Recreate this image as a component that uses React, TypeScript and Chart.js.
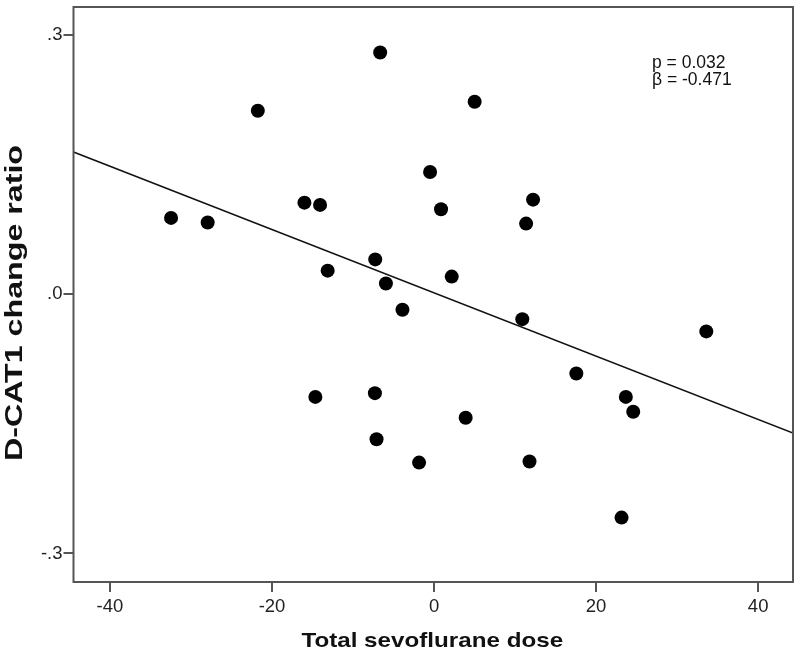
import React, { useEffect, useRef } from "react";
import { Chart, registerables } from "chart.js";

Chart.register(...registerables);

// Total sevoflurane dose (x) and D-CAT1 change ratio (y)
const doseValues = [
  -32.46, -27.94, -21.75, -16.0, -14.07, -13.13, -14.65, -7.26, -6.65, -5.94,
  -7.3, -7.1, -3.9, -1.85, -0.49, 0.86, 2.18, 3.9, 5.01, 10.89,
  11.36, 11.78, 12.22, 17.56, 23.67, 24.58, 23.14, 33.6,
];
const ratioValues = [
  0.0881, 0.0827, 0.212, 0.1057, 0.1031, 0.0271, -0.1189, 0.0401, 0.2793, 0.0123,
  -0.1146, -0.1679, -0.0182, -0.1949, 0.1411, 0.0981, 0.0202, -0.143, 0.2225, -0.029,
  0.0815, -0.1937, 0.1092, -0.0919, -0.1189, -0.1361, -0.2585, -0.0432,
];

const xMin = -44.5;
const xMax = 44.3;
const yMin = -0.333;
const yMax = 0.332;

const xTickValues = [-40, -20, 0, 20, 40];
const yTickValues = [0.3, 0, -0.3];
const yTickLabels = [".3", ".0", "-.3"];

const fitSlope = -0.00366;
const fitIntercept = 0.0014;
const fitX = [xMin, xMax];

const xTitle = "Total sevoflurane dose";
const yTitle = "D-CAT1 change ratio";
const statLines = ["p = 0.032", "β = -0.471"];

const FONT = "'Liberation Sans', Arial, sans-serif";
const AXIS_COLOR = "#555555";

export default function App() {
  const canvasRef = useRef<HTMLCanvasElement | null>(null);

  useEffect(() => {
    const canvas = canvasRef.current;
    if (!canvas) return;

    const points = doseValues.map((x, i) => ({ x, y: ratioValues[i] }));
    const fitLine = fitX.map((x) => ({ x, y: fitIntercept + fitSlope * x }));

    const boxAndTextPlugin = {
      id: "boxAndText",
      afterDraw(chart: any) {
        const ctx = chart.ctx as CanvasRenderingContext2D;
        const a = chart.chartArea;
        ctx.save();
        ctx.strokeStyle = AXIS_COLOR;
        ctx.lineWidth = 2;
        ctx.strokeRect(a.left, a.top, a.right - a.left, a.bottom - a.top);

        ctx.fillStyle = "#111111";
        ctx.save();
        ctx.font = `bold 20.5px ${FONT}`;
        ctx.textAlign = "center";
        ctx.textBaseline = "alphabetic";
        ctx.translate((a.left + a.right) / 2 - 1, 647);
        ctx.scale(1.18, 1);
        ctx.fillText(xTitle, 0, 0);
        ctx.restore();

        ctx.save();
        ctx.font = `bold 23px ${FONT}`;
        ctx.textAlign = "center";
        ctx.textBaseline = "alphabetic";
        ctx.translate(21.5, 303);
        ctx.rotate(-Math.PI / 2);
        ctx.scale(1.4, 1);
        ctx.fillText(yTitle, 0, 0);
        ctx.restore();

        ctx.font = `17.5px ${FONT}`;
        ctx.textAlign = "left";
        ctx.textBaseline = "alphabetic";
        statLines.forEach((t, i) => {
          ctx.fillText(t, 652, 68 + i * 17);
        });
        ctx.restore();
      },
    };

    const chart = new Chart(canvas, {
      type: "scatter",
      data: {
        datasets: [
          {
            type: "line",
            data: fitLine,
            borderColor: "#111111",
            borderWidth: 1.6,
            pointRadius: 0,
            fill: false,
            order: 2,
          } as any,
          {
            type: "scatter",
            data: points,
            backgroundColor: "#000000",
            borderColor: "#000000",
            borderWidth: 0,
            pointRadius: 7,
            order: 1,
          },
        ],
      },
      options: {
        responsive: false,
        animation: false,
        devicePixelRatio: 1,
        layout: { padding: { top: -2, right: 5, left: 0, bottom: 0 } },
        plugins: {
          legend: { display: false },
          tooltip: { enabled: false },
        },
        scales: {
          x: {
            type: "linear",
            min: xMin,
            max: xMax,
            afterBuildTicks: (scale: any) => {
              scale.ticks = xTickValues.map((v) => ({ value: v }));
            },
            afterFit: (scale: any) => {
              scale.height = 71;
              scale.paddingLeft = 0;
              scale.paddingRight = 0;
            },
            ticks: {
              font: { family: FONT, size: 18.5 },
              color: "#222222",
              padding: 4,
              maxRotation: 0,
              callback: (v: any) => String(v),
            },
            grid: {
              display: true,
              drawOnChartArea: false,
              drawTicks: true,
              tickLength: 10,
              color: AXIS_COLOR,
              lineWidth: 2,
            },
            border: { display: false },
            title: { display: false },
          },
          y: {
            type: "linear",
            min: yMin,
            max: yMax,
            afterBuildTicks: (scale: any) => {
              scale.ticks = yTickValues.map((v) => ({ value: v }));
            },
            afterFit: (scale: any) => {
              scale.width = 73.5;
              scale.paddingTop = 0;
              scale.paddingBottom = 0;
            },
            ticks: {
              font: { family: FONT, size: 18.5 },
              color: "#222222",
              padding: 1,
              callback: (v: any) => {
                const idx = yTickValues.findIndex((t) => Math.abs(t - v) < 1e-9);
                return idx >= 0 ? yTickLabels[idx] : "";
              },
            },
            grid: {
              display: true,
              drawOnChartArea: false,
              drawTicks: true,
              tickLength: 10,
              color: AXIS_COLOR,
              lineWidth: 2,
            },
            border: { display: false },
            title: { display: false },
          },
        },
      },
      plugins: [boxAndTextPlugin],
    });

    return () => {
      chart.destroy();
    };
  }, []);

  return (
    <div style={{ position: "fixed", left: 0, top: 0, width: 800, height: 653, background: "#ffffff" }}>
      <canvas ref={canvasRef} width={800} height={653} style={{ display: "block" }} />
    </div>
  );
}
